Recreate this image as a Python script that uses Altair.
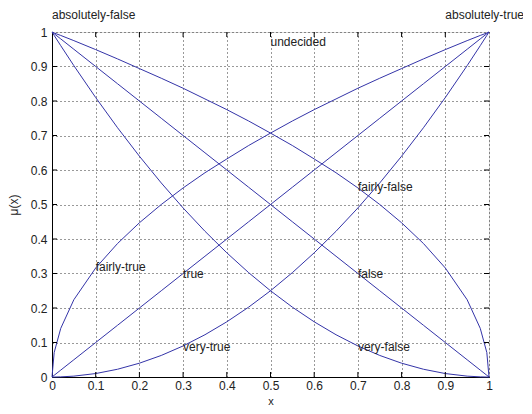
import altair as alt
import pandas as pd

# sampled x positions along the curves
x_vals = [0, 0.005, 0.02, 0.05, 0.1, 0.15, 0.2, 0.25, 0.3, 0.35, 0.4, 0.45, 0.5,
          0.55, 0.6, 0.65, 0.7, 0.75, 0.8, 0.85, 0.9, 0.95, 0.98, 0.995, 1]

true_y = [0, 0.005, 0.02, 0.05, 0.1, 0.15, 0.2, 0.25, 0.3, 0.35, 0.4, 0.45, 0.5,
          0.55, 0.6, 0.65, 0.7, 0.75, 0.8, 0.85, 0.9, 0.95, 0.98, 0.995, 1]
false_y = [1, 0.995, 0.98, 0.95, 0.9, 0.85, 0.8, 0.75, 0.7, 0.65, 0.6, 0.55, 0.5,
           0.45, 0.4, 0.35, 0.3, 0.25, 0.2, 0.15, 0.1, 0.05, 0.02, 0.005, 0]
very_true_y = [0, 0.0, 0.0004, 0.0025, 0.01, 0.0225, 0.04, 0.0625, 0.09, 0.1225, 0.16,
               0.2025, 0.25, 0.3025, 0.36, 0.4225, 0.49, 0.5625, 0.64, 0.7225, 0.81,
               0.9025, 0.9604, 0.99, 1]
very_false_y = [1, 0.99, 0.9604, 0.9025, 0.81, 0.7225, 0.64, 0.5625, 0.49, 0.4225,
                0.36, 0.3025, 0.25, 0.2025, 0.16, 0.1225, 0.09, 0.0625, 0.04, 0.0225,
                0.01, 0.0025, 0.0004, 0.0, 0]
fairly_true_y = [0, 0.071, 0.141, 0.224, 0.316, 0.387, 0.447, 0.5, 0.548, 0.592,
                 0.632, 0.671, 0.707, 0.742, 0.775, 0.806, 0.837, 0.866, 0.894,
                 0.922, 0.949, 0.975, 0.99, 0.997, 1]
fairly_false_y = [1, 0.997, 0.99, 0.975, 0.949, 0.922, 0.894, 0.866, 0.837, 0.806,
                  0.775, 0.742, 0.707, 0.671, 0.632, 0.592, 0.548, 0.5, 0.447, 0.387,
                  0.316, 0.224, 0.141, 0.071, 0]

series = {
    "true": true_y,
    "false": false_y,
    "very-true": very_true_y,
    "very-false": very_false_y,
    "fairly-true": fairly_true_y,
    "fairly-false": fairly_false_y,
}

label_text = ["absolutely-false", "absolutely-true", "undecided", "fairly-true", "true",
              "very-true", "fairly-false", "false", "very-false"]
label_x = [0, 0.9, 0.5, 0.1, 0.3, 0.3, 0.7, 0.7, 0.7]
label_y = [1.05, 1.05, 0.97, 0.32, 0.30, 0.087, 0.55, 0.30, 0.087]

tick_vals = [0, 0.1, 0.2, 0.3, 0.4, 0.5, 0.6, 0.7, 0.8, 0.9, 1]

rows = []
for name, ys in series.items():
    for xv, yv in zip(x_vals, ys):
        rows.append({"series": name, "x": xv, "mu": yv})
df = pd.DataFrame(rows)
labels = pd.DataFrame({"text": label_text, "x": label_x, "y": label_y})
ticks = pd.DataFrame({"t": tick_vals[1:-1]})

W, H = 437, 345
xs = alt.Scale(domain=[0, 1], nice=False, zero=False)
ysc = alt.Scale(domain=[0, 1], nice=False, zero=False)
FONT = "Liberation Sans"
LINE = "#3434a8"
TXT = "#222"

x_axis = alt.Axis(values=tick_vals, format="~g", title="x", tickSize=0, labelPadding=3,
                  labelOverlap=False, labelFlush=False,
                  grid=True, gridDash=[1, 3], gridColor="#000", gridOpacity=0.8,
                  domainColor="#000", labelFont=FONT, labelFontSize=12, labelColor=TXT,
                  titleFont=FONT, titleFontSize=11, titleFontWeight="normal",
                  titleColor=TXT, titleY=29, titleBaseline="bottom")
y_axis = alt.Axis(values=tick_vals, format="~g", title="μ(x)", tickSize=0, labelPadding=5,
                  labelOverlap=False, labelFlush=False,
                  grid=True, gridDash=[1, 3], gridColor="#000", gridOpacity=0.8,
                  domainColor="#000", labelFont=FONT, labelFontSize=12, labelColor=TXT,
                  titleFont=FONT, titleFontSize=12, titleFontWeight="normal",
                  titleColor=TXT, titlePadding=10)

lines = alt.Chart(df).mark_line(color=LINE, strokeWidth=1).encode(
    x=alt.X("x:Q", scale=xs, axis=x_axis, title="x"),
    y=alt.Y("mu:Q", scale=ysc, axis=y_axis, title="μ(x)"),
    detail="series:N",
)

text = alt.Chart(labels).mark_text(align="left", baseline="middle", font=FONT,
                                    fontSize=12, color=TXT).encode(
    x=alt.X("x:Q", scale=xs, axis=x_axis, title="x"),
    y=alt.Y("y:Q", scale=ysc, axis=y_axis, title="μ(x)"),
    text="text:N",
)

tb = alt.Chart(ticks).mark_rule(color="#000").encode(
    x=alt.X("t:Q", scale=xs, axis=x_axis, title="x"), y=alt.value(H), y2=alt.value(H - 5))
tt = alt.Chart(ticks).mark_rule(color="#000").encode(
    x=alt.X("t:Q", scale=xs, axis=x_axis, title="x"), y=alt.value(0), y2=alt.value(5))
tl = alt.Chart(ticks).mark_rule(color="#000").encode(
    y=alt.Y("t:Q", scale=ysc, axis=y_axis, title="μ(x)"), x=alt.value(0), x2=alt.value(5))
tr = alt.Chart(ticks).mark_rule(color="#000").encode(
    y=alt.Y("t:Q", scale=ysc, axis=y_axis, title="μ(x)"), x=alt.value(W), x2=alt.value(W - 5))

chart = alt.layer(lines, tb, tt, tl, tr, text).properties(
    width=W, height=H,
    autosize=alt.AutoSizeParams(type="none"),
    padding={"left": 44, "top": 24, "right": 34, "bottom": 29},
).configure_view(stroke="#000", strokeWidth=1).configure(background="white")

chart.save("out.html", embed_options={"renderer": "svg", "actions": False})
